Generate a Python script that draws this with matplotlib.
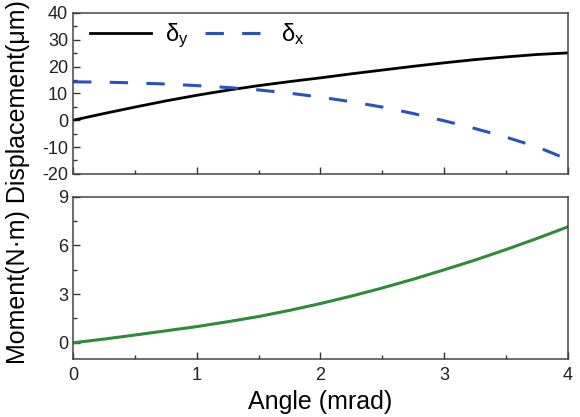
import matplotlib
matplotlib.use('Agg')
import matplotlib.pyplot as plt
from matplotlib.ticker import MultipleLocator
import numpy as np

plt.rcParams['font.family'] = ['Liberation Sans', 'DejaVu Sans']
plt.rcParams['mathtext.fontset'] = 'custom'
plt.rcParams['mathtext.rm'] = 'Liberation Sans'
plt.rcParams['mathtext.it'] = 'Liberation Sans:italic'
plt.rcParams['axes.unicode_minus'] = False

# angle (mrad)
angle = [0, 0.25, 0.5, 0.75, 1.0, 1.25, 1.5, 1.75, 2.0, 2.25, 2.5, 2.75, 3.0, 3.25, 3.5, 3.75, 4.0]
# displacement (um)
delta_y = [0, 2.5, 4.9, 7.2, 9.3, 11.2, 12.9, 14.4, 15.8, 17.3, 18.7, 20.1, 21.4, 22.6, 23.6, 24.5, 25.1]
delta_x = [14.3, 14.2, 13.9, 13.5, 12.9, 12.2, 11.3, 10.1, 8.6, 6.9, 4.9, 2.5, -0.2, -3.1, -6.3, -9.9, -14.6]
# moment (N.m)
moment = [0, 0.23, 0.48, 0.74, 1.0, 1.3, 1.62, 2.0, 2.42, 2.88, 3.38, 3.92, 4.5, 5.1, 5.75, 6.43, 7.15]

blue = '#2a52be'
green = '#2e8b3a'

fig = plt.figure(figsize=(5.8, 4.17), dpi=100)
ax1 = fig.add_axes([0.126, 0.583, 0.853, 0.386])
ax2 = fig.add_axes([0.126, 0.139, 0.853, 0.389])

ax1.plot(angle, delta_y, color='black', lw=2.0, label=r'$\mathrm{\delta_y}$')
ax1.plot(angle, delta_x, color=blue, lw=2.2, dashes=(6, 6), label=r'$\mathrm{\delta_x}$')
ax2.plot(angle, moment, color=green, lw=2.2)

ax1.set_xlim(0, 4)
ax1.set_ylim(-20, 40)
ax1.yaxis.set_major_locator(MultipleLocator(10))
ax1.yaxis.set_minor_locator(MultipleLocator(5))

ax2.set_xlim(0, 4)
ax2.set_ylim(-1, 9)
ax2.set_yticks([0, 3, 6, 9])
ax2.yaxis.set_minor_locator(MultipleLocator(1.5))

for ax in (ax1, ax2):
    ax.xaxis.set_major_locator(MultipleLocator(1))
    ax.xaxis.set_minor_locator(MultipleLocator(0.5))
    ax.tick_params(which='both', direction='in', top=False, right=False,
                   labelsize=13, color='#333333', labelcolor='#222222')
    ax.tick_params(which='major', length=5, width=1)
    ax.tick_params(which='minor', length=3, width=1)
    for s in ax.spines.values():
        s.set_color('#444444')
        s.set_linewidth(1.1)
ax2.tick_params(axis='x', pad=6)

ax1.set_xticklabels([])
ax1.legend(loc='upper left', ncol=2, frameon=False, fontsize=17,
           handlelength=2.6, columnspacing=0.7, handletextpad=0.6,
           bbox_to_anchor=(0.0, 1.05), borderaxespad=0.3)

# one shared label running up the left side of both panels
fig.text(0.031, 0.563, 'Moment(N\u00b7m) Displacement(\u03bcm)', fontsize=18,
         rotation=90, ha='center', va='center')
ax2.set_xlabel('Angle (mrad)', fontsize=18, labelpad=4)

fig.savefig('out.png', dpi=100)
